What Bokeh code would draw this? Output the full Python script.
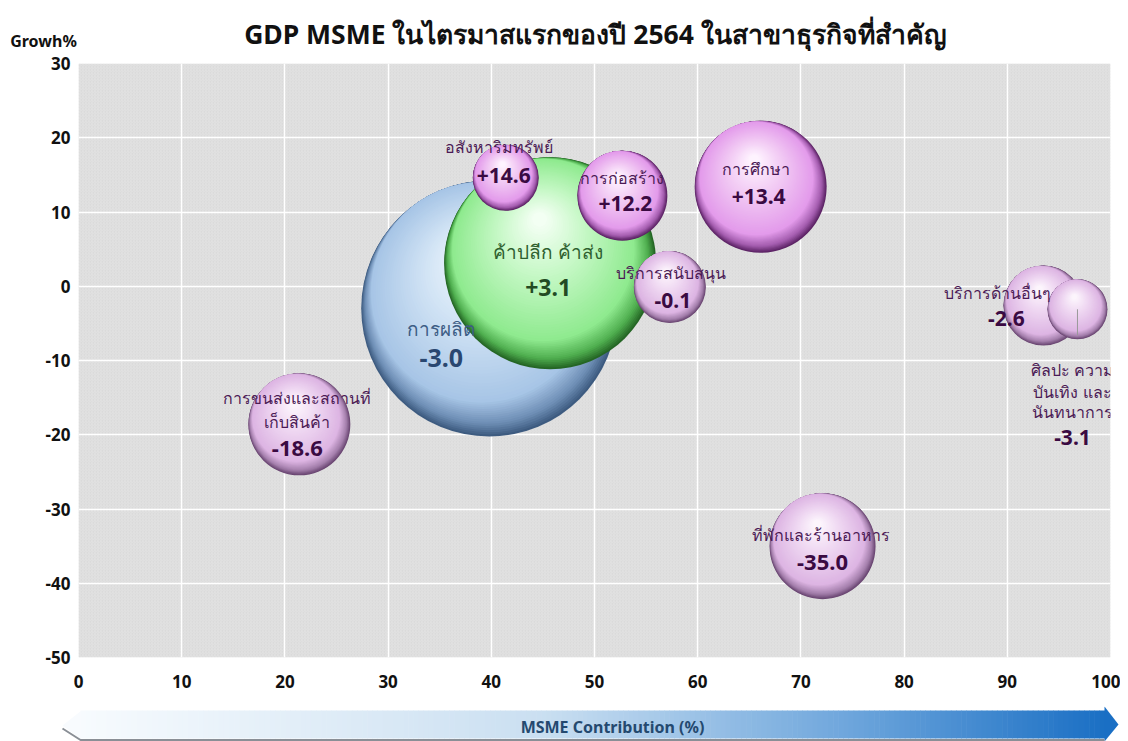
import numpy as np
from bokeh.plotting import figure
from bokeh.models import Range1d, FixedTicker, ColumnDataSource, PrintfTickFormatter
from bokeh.core.properties import value
from bokeh.embed import file_html
from bokeh.resources import INLINE

# ---------------- data ----------------
sectors = ["การผลิต", "ค้าปลีก ค้าส่ง", "อสังหาริมทรัพย์", "การก่อสร้าง", "การศึกษา",
           "บริการสนับสนุน", "บริการด้านอื่นๆ", "ศิลปะ ความบันเทิง และนันทนาการ",
           "การขนส่งและสถานที่เก็บสินค้า", "ที่พักและร้านอาหาร"]
name_lines = [["การผลิต"], ["ค้าปลีก ค้าส่ง"], ["อสังหาริมทรัพย์"], ["การก่อสร้าง"], ["การศึกษา"],
              ["บริการสนับสนุน"], ["บริการด้านอื่นๆ"], ["ศิลปะ ความ", "บันเทิง และ", "นันทนาการ"],
              ["การขนส่งและสถานที่", "เก็บสินค้า"], ["ที่พักและร้านอาหาร"]]
contribution = [39.8, 45.7, 41.4, 52.7, 66.1, 57.3, 93.5, 96.8, 21.4, 72.1]   # x, MSME contribution %
growth = [-3.0, 3.1, 14.6, 12.2, 13.4, -0.1, -2.6, -3.1, -18.6, -35.0]        # y, growth %
bubble_size = [128, 106, 33, 45, 66, 36, 40, 30, 51, 53]                       # relative bubble size
x_ticks = [0, 10, 20, 30, 40, 50, 60, 70, 80, 90, 100]
y_ticks = [-50, -40, -30, -20, -10, 0, 10, 20, 30]
title_text = "GDP MSME ในไตรมาสแรกของปี 2564 ในสาขาธุรกิจที่สำคัญ"
y_title = "Growh%"
x_title = "MSME Contribution (%)"

# ---------------- styles ----------------
FONT = "Noto Sans"
W = 1120
FRAME_W, FRAME_H = 1032, 594
X0, X1, Y0, Y1 = 0, 100, -50, 30
PX = FRAME_W / (X1 - X0)
PY = FRAME_H / (Y1 - Y0)

schemes = {
    #        edge        mid-shadow  body       light      highlight
    "blue":  ("#3d5b80", "#6d8db4", "#a7c5e6", "#d2e4f5", "#f4f9fe"),
    "green": ("#256625", "#4fae4f", "#8fea8f", "#c6f8c6", "#f5fff5"),
    "pink":  ("#5c2365", "#a35cae", "#e39beb", "#f2cbf4", "#fff5ff"),
    "pale":  ("#6a4672", "#a47fac", "#ddb5e3", "#efd8f2", "#fdf7fd"),
}
text_colors = {"blue": ("#3d5d85", "#2a4770"), "green": ("#2f5f2f", "#234a23"),
               "pink": ("#4b1a55", "#3a0a42"), "pale": ("#4b1a55", "#3a0a42")}
special = {"การผลิต": "blue", "ค้าปลีก ค้าส่ง": "green"}

label_layout = {
    "การผลิต": dict(dx=-48, dys=[20], vdx=-48, vdy=49, ns=19, vs=25),
    "ค้าปลีก ค้าส่ง": dict(dx=-2, dys=[-11], vdx=-2, vdy=24, ns=19, vs=23),
    "อสังหาริมทรัพย์": dict(dx=-7, dys=[-31], vdx=-2, vdy=-2, ns=16, vs=21),
    "การก่อสร้าง": dict(dx=0, dys=[-18], vdx=3, vdy=8, ns=16, vs=21),
    "การศึกษา": dict(dx=-5, dys=[-18], vdx=-2, vdy=10, ns=16, vs=21),
    "บริการสนับสนุน": dict(dx=1, dys=[-14], vdx=3, vdy=14, ns=16, vs=21),
    "บริการด้านอื่นๆ": dict(dx=-46, dys=[-13], vdx=-37, vdy=13, ns=16, vs=21),
    "ศิลปะ ความบันเทิง และนันทนาการ": dict(dx=-5, dys=[61, 83, 103], vdx=-5, vdy=128, ns=16, vs=21),
    "การขนส่งและสถานที่เก็บสินค้า": dict(dx=-2, dys=[-26, -2], vdx=-2, vdy=24, ns=16, vs=22),
    "ที่พักและร้านอาหาร": dict(dx=-2, dys=[-11], vdx=0, vdy=16, ns=16, vs=22),
}


def hex2rgb(h):
    h = h.lstrip("#")
    return np.array([int(h[i:i + 2], 16) for i in (0, 2, 4)], dtype=float)


def grad(stops, t):
    for (t0, c0), (t1, c1) in zip(stops[:-1], stops[1:]):
        if t <= t1:
            f = (t - t0) / (t1 - t0) if t1 > t0 else 0
            c = hex2rgb(c0) * (1 - f) + hex2rgb(c1) * f
            return "#%02x%02x%02x" % tuple(int(round(v)) for v in c)
    return stops[-1][1]


def bare(fig):
    fig.axis.visible = False
    fig.grid.visible = False
    fig.outline_line_color = None
    fig.min_border = 0
    fig.background_fill_color = "white"
    fig.border_fill_color = "white"


# ---------------- header (title + y caption) ----------------
HH = 51
h = figure(width=W, height=HH, output_backend="svg", toolbar_location=None,
           x_range=Range1d(0, W), y_range=Range1d(0, HH), frame_width=W, frame_height=HH)
bare(h)
h.text(x=[595], y=[HH - 33], text=[title_text], text_font=value(FONT), text_font_size="26.5px",
       text_font_style="bold", text_color="#111111", text_align="center", text_baseline="middle")
h.text(x=[43], y=[HH - 40], text=[y_title], text_font=value(FONT), text_font_size="16px",
       text_font_style="bold", text_color="#111111", text_align="center", text_baseline="middle")

# ---------------- main chart ----------------
p = figure(width=W, height=655, output_backend="svg", toolbar_location=None,
           x_range=Range1d(X0, X1), y_range=Range1d(Y0, Y1),
           frame_width=FRAME_W, frame_height=FRAME_H)
p.min_border_left = 78
p.min_border_top = 12
p.min_border_right = 10
p.min_border_bottom = 49
p.outline_line_color = None
p.background_fill_color = "white"
p.border_fill_color = "white"

p.quad(left=[X0], right=[X1], bottom=[Y0], top=[Y1], fill_color="#dadada",
       line_color=None, hatch_pattern="/", hatch_color="#e4e4e4", hatch_scale=3,
       hatch_weight=0.8, level="image")

for ax in (p.xaxis[0], p.yaxis[0]):
    ax.axis_line_color = None
    ax.major_tick_line_color = None
    ax.minor_tick_line_color = None
    ax.major_tick_out = 0
    ax.major_tick_in = 0
    ax.minor_tick_out = 0
    ax.major_label_text_font = FONT
    ax.major_label_text_font_style = "bold"
    ax.major_label_text_font_size = "17px"
    ax.major_label_text_color = "#111111"
p.xaxis.ticker = FixedTicker(ticks=x_ticks)
p.yaxis.ticker = FixedTicker(ticks=y_ticks)
p.yaxis.formatter = PrintfTickFormatter(format="%d")
p.xaxis.major_label_standoff = 17
p.yaxis.major_label_standoff = 8
p.xgrid.ticker = FixedTicker(ticks=x_ticks)
p.ygrid.ticker = FixedTicker(ticks=y_ticks)
p.grid.grid_line_color = "white"
p.grid.grid_line_width = 1.5
p.grid.grid_line_alpha = 1.0

# ---- bubbles: shadow crescent + radial highlight, built from layered circles ----
ux, uy = -0.45, 0.89          # direction towards the light
D1 = 0.14                     # crescent depth (fraction of radius)
FX, FY = -0.10, 0.42          # highlight focal point (fraction of radius)
K1, K2 = 16, 44
bx, by, bs, bc = [], [], [], []
for i, s in enumerate(sectors):
    sch = special.get(s, "pink" if growth[i] > 0 else "pale")
    edge, mid, body, light, high = schemes[sch]
    r = bubble_size[i]
    cx, cy = contribution[i], growth[i]
    st1 = [(0, edge), (0.35, mid), (1, body)]
    for k in range(K1):
        t = k / K1
        d = D1 * t * r
        bx.append(cx + ux * d / PX)
        by.append(cy + uy * d / PY)
        bs.append(2 * (r - d))
        bc.append(grad(st1, t))
    c1x, c1y, r1 = ux * D1 * r, uy * D1 * r, r * (1 - D1)
    st2 = [(0, body), (0.55, light), (1, high)]
    for k in range(K2):
        t = k / K2
        ox = c1x + (FX * r - c1x) * t
        oy = c1y + (FY * r - c1y) * t
        rk = r1 + (0.05 * r - r1) * t
        bx.append(cx + ox / PX)
        by.append(cy + oy / PY)
        bs.append(2 * rk)
        bc.append(grad(st2, t))
src = ColumnDataSource(dict(x=bx, y=by, size=bs, color=bc))
p.scatter(x="x", y="y", size="size", fill_color="color", line_color=None, marker="circle", source=src)

ia = sectors.index("ศิลปะ ความบันเทิง และนันทนาการ")
p.segment(x0=[contribution[ia]], y0=[growth[ia]], x1=[contribution[ia]],
          y1=[growth[ia] - 26 / PY], line_color="#9a9a9a", line_width=1)

tx, ty, tt, tcol, tsize, tstyle = [], [], [], [], [], []
for i, s in enumerate(sectors):
    sch = special.get(s, "pink" if growth[i] > 0 else "pale")
    L = label_layout[s]
    for line, dy in zip(name_lines[i], L["dys"]):
        tx.append(contribution[i] + L["dx"] / PX)
        ty.append(growth[i] - dy / PY)
        tt.append(line)
        tcol.append(text_colors[sch][0])
        tsize.append("%dpx" % L["ns"])
        tstyle.append("normal")
    tx.append(contribution[i] + L["vdx"] / PX)
    ty.append(growth[i] - L["vdy"] / PY)
    tt.append(("+%.1f" % growth[i]) if growth[i] > 0 else ("-%.1f" % abs(growth[i])))
    tcol.append(text_colors[sch][1])
    tsize.append("%dpx" % L["vs"])
    tstyle.append("bold")
tsrc = ColumnDataSource(dict(x=tx, y=ty, text=tt, color=tcol, size=tsize, style=tstyle))
p.text(x="x", y="y", text="text", source=tsrc, text_color="color", text_font_size="size",
       text_font_style="style", text_font=value(FONT), text_align="center", text_baseline="middle")

# ---------------- arrow strip ----------------
AH = 35
a = figure(width=W, height=AH, output_backend="svg", toolbar_location=None,
           x_range=Range1d(0, W), y_range=Range1d(0, AH), frame_width=W, frame_height=AH)
bare(a)
arrow_stops = [(0, "#f7fbfe"), (0.45, "#cadff1"), (0.75, "#6ea6dc"), (1, "#1a6fc4")]
N = 200
ax0, ax1 = 80, 1104
edges = np.linspace(ax0, ax1, N + 1)
a.patch(x=[62, ax0 + 1, ax0 + 1], y=[16, 31, 2], fill_color="#f8fbfe", line_color=None)
a.quad(left=edges[:-1], right=edges[1:] + 0.6, bottom=3, top=31,
       fill_color=[grad(arrow_stops, (j + 0.5) / N) for j in range(N)], line_color=None)
a.patch(x=[ax1, 1118, ax1], y=[0, 17, 35], fill_color="#1a6fc4", line_color=None)
a.line(x=[62, ax0, ax1], y=[13, 1.5, 1.5], line_color="#8a8f96", line_width=2)
a.text(x=[612], y=[15], text=[x_title], text_font=value(FONT), text_font_size="16px",
       text_font_style="bold", text_color="#24496f", text_align="center", text_baseline="middle")

open("out.html", "w").write(file_html((h, p, a), INLINE))
